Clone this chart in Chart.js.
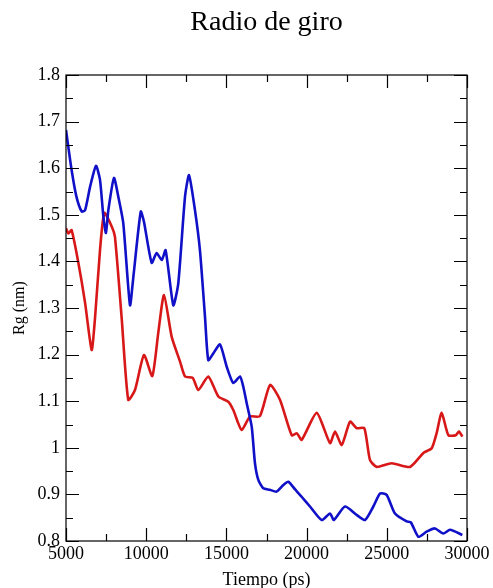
<!DOCTYPE html>
<html>
<head>
<meta charset="utf-8">
<script src="https://cdn.jsdelivr.net/npm/chart.js@4/dist/chart.umd.min.js"></script>
<style>
  html, body { margin: 0; padding: 0; background: #fff; }
  canvas { display: block; }
</style>
</head>
<body>
<canvas id="rgChart" width="493" height="588"></canvas>
<script>
// Data (time in ps, Rg in nm)
const blueTime = [5000, 5350, 5650, 5980, 6190, 6500, 6870, 7120, 7330, 7490, 7640, 7990, 8260, 8570, 8990, 9200,
  9660, 9860, 10340, 10650, 10970, 11210, 11690, 12000, 12420, 12670, 13040, 13350, 13670, 13870, 14190, 14600,
  15020, 15430, 15850, 16060, 16270, 16580, 16780, 16990, 17300, 17700, 18130, 18550, 18860, 19300, 19690, 20210,
  20940, 21460, 21700, 22390, 23120, 23640, 24160, 24580, 24990, 25510, 26240, 26500, 26970, 27480, 28000, 28520,
  28940, 29710];
const blueRg = [1.682, 1.596, 1.539, 1.507, 1.510, 1.560, 1.605, 1.575, 1.496, 1.461, 1.510, 1.579, 1.539, 1.482, 1.306, 1.367,
  1.507, 1.485, 1.397, 1.418, 1.403, 1.424, 1.306, 1.353, 1.539, 1.585, 1.510, 1.424, 1.279, 1.188, 1.203, 1.222,
  1.174, 1.139, 1.153, 1.130, 1.095, 1.045, 0.967, 0.931, 0.913, 0.910, 0.906, 0.920, 0.927, 0.910, 0.895, 0.874,
  0.845, 0.859, 0.845, 0.874, 0.856, 0.845, 0.874, 0.902, 0.899, 0.859, 0.842, 0.840, 0.809, 0.820, 0.827, 0.816,
  0.824, 0.813];

const redTime = [5000, 5150, 5350, 5770, 6190, 6600, 6810, 7120, 7390, 7850, 8050, 8470, 8880, 9300, 9860, 10380,
  10750, 11110, 11590, 12110, 12420, 12900, 13250, 13870, 14500, 15120, 15430, 15950, 16470, 17090, 17720, 18340,
  19070, 19400, 19690, 20630, 21460, 21770, 22190, 22710, 23120, 23600, 23950, 24370, 25300, 26450, 27280, 27800,
  28110, 28420, 28840, 29300, 29500, 29710];
const redRg = [1.471, 1.460, 1.467, 1.397, 1.311, 1.210, 1.279, 1.424, 1.504, 1.475, 1.453, 1.279, 1.103, 1.124, 1.199, 1.154,
  1.246, 1.328, 1.238, 1.185, 1.153, 1.150, 1.124, 1.153, 1.110, 1.099, 1.081, 1.038, 1.067, 1.068, 1.135, 1.103,
  1.027, 1.031, 1.017, 1.075, 1.010, 1.035, 1.006, 1.056, 1.042, 1.042, 0.974, 0.959, 0.967, 0.959, 0.989, 0.999,
  1.032, 1.075, 1.027, 1.027, 1.035, 1.024];

const xTicks = [5000, 10000, 15000, 20000, 25000, 30000];
const yTicks = [0.8, 0.9, 1, 1.1, 1.2, 1.3, 1.4, 1.5, 1.6, 1.7, 1.8];

const SERIF = '"Liberation Serif", "DejaVu Serif", serif';

function toPoints(xs, ys) {
  return xs.map((x, i) => ({ x: x, y: ys[i] }));
}

// Frame + inward ticks (xmgrace style), using the chart's own scales
const framePlugin = {
  id: 'frame',
  afterDraw(chart) {
    const { ctx, chartArea: a, scales: { x, y } } = chart;
    ctx.save();
    ctx.strokeStyle = '#000';
    ctx.lineWidth = 1.2;
    ctx.strokeRect(a.left, a.top, a.right - a.left, a.bottom - a.top);
    ctx.beginPath();
    for (let v = x.min; v <= x.max; v += 2500) {
      const px = Math.round(x.getPixelForValue(v)) + 0.5;
      const len = v % 5000 === 0 ? 13 : 7;
      ctx.moveTo(px, a.bottom); ctx.lineTo(px, a.bottom - len);
      ctx.moveTo(px, a.top); ctx.lineTo(px, a.top + len);
    }
    for (let i = 0; i <= 20; i++) {
      const v = y.min + i * 0.05;
      const py = Math.round(y.getPixelForValue(v)) + 0.5;
      const len = i % 2 === 0 ? 13 : 7;
      ctx.moveTo(a.left, py); ctx.lineTo(a.left + len, py);
      ctx.moveTo(a.right, py); ctx.lineTo(a.right - len, py);
    }
    ctx.stroke();
    ctx.restore();
  }
};

const config = {
  type: 'line',
  data: {
    datasets: [
      {
        label: 'blue',
        data: toPoints(blueTime, blueRg),
        borderColor: '#1010c8',
        borderWidth: 2.6,
        pointRadius: 0,
        tension: 0.2
      },
      {
        label: 'red',
        data: toPoints(redTime, redRg),
        borderColor: '#d81818',
        borderWidth: 2.6,
        pointRadius: 0,
        tension: 0.2
      }
    ]
  },
  options: {
    responsive: false,
    animation: false,
    layout: { padding: { left: 0, right: 26, top: 0, bottom: 0 } },
    plugins: {
      legend: { display: false },
      tooltip: { enabled: false },
      title: {
        display: true,
        fullSize: false,
        text: 'Radio de giro',
        color: '#000',
        font: { family: SERIF, size: 28, weight: 'normal', lineHeight: 1.2 },
        padding: { top: 6, bottom: 35.4 }
      }
    },
    scales: {
      x: {
        type: 'linear',
        min: 5000,
        max: 30000,
        afterBuildTicks(scale) { scale.ticks = xTicks.map(v => ({ value: v })); },
        afterFit(scale) { scale.height = 47; },
        grid: { display: false, drawTicks: false },
        border: { display: false },
        ticks: {
          color: '#000',
          padding: 2,
          maxRotation: 0,
          font: { family: SERIF, size: 18 },
          callback: v => String(v)
        },
        title: {
          display: true,
          text: 'Tiempo (ps)',
          color: '#000',
          font: { family: SERIF, size: 18 },
          padding: { top: 0, bottom: -3 }
        }
      },
      y: {
        min: 0.8,
        max: 1.8,
        afterBuildTicks(scale) { scale.ticks = yTicks.map(v => ({ value: v })); },
        afterFit(scale) { scale.width = 66; },
        grid: { display: false, drawTicks: false },
        border: { display: false },
        ticks: {
          color: '#000',
          padding: 6,
          font: { family: SERIF, size: 18 },
          callback: v => String(Math.round(v * 10) / 10)
        },
        title: {
          display: true,
          text: 'Rg (nm)',
          color: '#000',
          font: { family: SERIF, size: 16 },
          padding: { top: 10, bottom: 0 }
        }
      }
    }
  },
  plugins: [framePlugin]
};

const ctx = document.getElementById('rgChart').getContext('2d');
const chart = new Chart(ctx, config);
</script>
</body>
</html>
